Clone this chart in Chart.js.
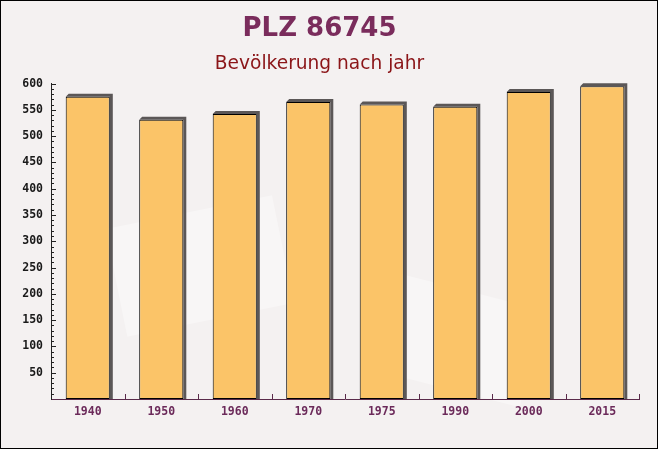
<!DOCTYPE html>
<html>
<head>
<meta charset="utf-8">
<script src="https://cdn.jsdelivr.net/npm/chart.js@4/dist/chart.umd.min.js"></script>
<style>
  html, body { margin: 0; padding: 0; background: #f4f1f1; }
  #wrap { width: 658px; height: 449px; }
</style>
</head>
<body>
<div id="wrap"><canvas id="popChart" width="658" height="449"></canvas></div>
<script>
// Population per year
const years = ['1940', '1950', '1960', '1970', '1975', '1990', '2000', '2015'];
const population = [575, 531, 542, 565, 560, 556, 584, 595];
const yTicks = [50, 100, 150, 200, 250, 300, 350, 400, 450, 500, 550, 600];

const titleText = 'PLZ 86745';
const subtitleText = 'Bevölkerung nach jahr';

// background + frame
const framePlugin = {
    id: 'frame',
    beforeDraw: (chart) => {
        const ctx = chart.ctx;
        ctx.save();
        ctx.fillStyle = '#f4f1f1';
        ctx.fillRect(0, 0, chart.width, chart.height);
        // faint paper shapes
        ctx.fillStyle = 'rgba(255,255,255,0.35)';
        ctx.translate(chart.width / 2, chart.height / 2);
        ctx.rotate(-0.2);
        ctx.fillRect(-220, -40, 170, 110);
        ctx.rotate(0.45);
        ctx.fillRect(70, 30, 160, 100);
        ctx.restore();
    },
    afterDraw: (chart) => {
        const ctx = chart.ctx;
        ctx.save();
        ctx.strokeStyle = '#000';
        ctx.lineWidth = 1;
        ctx.strokeRect(0.5, 0.5, chart.width - 1, chart.height - 1);
        ctx.restore();
    }
};

// 3D-ish shadow behind each bar
const shadowPlugin = {
    id: 'barShadow',
    beforeDatasetsDraw: (chart) => {
        const ctx = chart.ctx;
        const d = 3;
        ctx.save();
        ctx.fillStyle = '#5b5757';
        chart.getDatasetMeta(0).data.forEach(bar => {
            const l = bar.x - bar.width / 2;
            const r = bar.x + bar.width / 2;
            ctx.beginPath();
            ctx.moveTo(l, bar.y);
            ctx.lineTo(l + d, bar.y - d);
            ctx.lineTo(r + d, bar.y - d);
            ctx.lineTo(r + d, bar.base);
            ctx.lineTo(r, bar.base);
            ctx.lineTo(r, bar.y);
            ctx.closePath();
            ctx.fill();
        });
        ctx.restore();
    }
};

// small tick marks drawn inside the plot
const tickPlugin = {
    id: 'innerTicks',
    afterDatasetsDraw: (chart) => {
        const ctx = chart.ctx;
        const y = chart.scales.y, x = chart.scales.x;
        ctx.save();
        ctx.lineWidth = 1;
        ctx.strokeStyle = '#222';
        for (let v = 10; v <= 600; v += 10) {
            const py = Math.round(y.getPixelForValue(v)) + 0.5;
            const len = v % 50 === 0 ? 5 : 3;
            ctx.beginPath();
            ctx.moveTo(y.right, py);
            ctx.lineTo(y.right + len, py);
            ctx.stroke();
        }
        ctx.strokeStyle = '#5a2a4a';
        for (let i = 1; i <= years.length; i++) {
            const px = Math.round(x.getPixelForValue(i - 0.5)) + 0.5;
            ctx.beginPath();
            ctx.moveTo(px, x.top);
            ctx.lineTo(px, x.top - 5);
            ctx.stroke();
        }
        ctx.restore();
    }
};

const ctx = document.getElementById('popChart').getContext('2d');
new Chart(ctx, {
    type: 'bar',
    data: {
        labels: years,
        datasets: [{
            label: 'Bevölkerung',
            data: population,
            backgroundColor: '#fbc468',
            borderColor: '#000',
            borderWidth: 1,
            borderSkipped: false,
            barPercentage: 0.6,
            categoryPercentage: 1.0
        }]
    },
    options: {
        responsive: false,
        animation: false,
        devicePixelRatio: 1,
        layout: { padding: { left: 0, right: 19, top: 0, bottom: 0 } },
        plugins: {
            legend: { display: false },
            tooltip: { enabled: false },
            title: {
                display: true,
                text: titleText,
                color: '#7a2c5c',
                font: { family: 'DejaVu Sans', size: 26, weight: 'bold' },
                padding: { top: 14, bottom: 0 }
            },
            subtitle: {
                display: true,
                text: subtitleText,
                color: '#8b1518',
                font: { family: 'DejaVu Sans', size: 18.6 },
                padding: { top: 8, bottom: 8 }
            }
        },
        scales: {
            x: {
                grid: { display: false, drawTicks: false },
                border: { display: true, color: '#5a2a4a', width: 1 },
                ticks: {
                    color: '#6b2a5a',
                    padding: 6,
                    font: { family: 'DejaVu Sans Mono', size: 11.5, weight: 'bold' }
                },
                afterFit: (scale) => { scale.height = 50; }
            },
            y: {
                min: 0,
                max: 600,
                afterBuildTicks: (scale) => {
                    scale.ticks = yTicks.map(v => ({ value: v }));
                },
                grid: { display: false, drawTicks: false },
                border: { display: true, color: '#222', width: 1 },
                ticks: {
                    color: '#1a1a1a',
                    padding: 8,
                    font: { family: 'DejaVu Sans Mono', size: 11.5, weight: 'bold' }
                },
                afterFit: (scale) => { scale.width = 51; }
            }
        }
    },
    plugins: [framePlugin, shadowPlugin, tickPlugin]
});
</script>
</body>
</html>
